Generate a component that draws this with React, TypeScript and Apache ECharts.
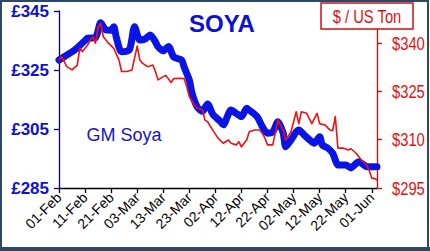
import React, { useEffect, useRef } from "react";
import * as echarts from "echarts";

// ---- Data ----
const BASE_DATE = "2011-02-01";

const gbpDates = [
  "2011-02-01", "2011-02-03", "2011-02-07", "2011-02-11", "2011-02-12", "2011-02-15",
  "2011-02-17", "2011-02-19", "2011-02-21", "2011-02-22", "2011-02-23", "2011-02-25",
  "2011-02-28", "2011-03-02", "2011-03-04", "2011-03-06", "2011-03-08", "2011-03-10",
  "2011-03-11", "2011-03-13", "2011-03-15", "2011-03-17", "2011-03-20", "2011-03-21",
  "2011-03-23", "2011-03-24", "2011-03-26", "2011-03-28", "2011-03-30", "2011-04-01",
  "2011-04-04", "2011-04-05", "2011-04-08", "2011-04-10", "2011-04-12", "2011-04-14",
  "2011-04-15", "2011-04-18", "2011-04-20", "2011-04-22", "2011-04-24", "2011-04-26",
  "2011-04-28", "2011-04-29", "2011-05-01", "2011-05-03", "2011-05-04", "2011-05-06",
  "2011-05-09", "2011-05-10", "2011-05-12", "2011-05-13", "2011-05-15", "2011-05-17",
  "2011-05-18", "2011-05-19", "2011-05-22", "2011-05-24", "2011-05-25", "2011-05-27",
  "2011-05-29", "2011-05-30", "2011-06-03",
];
const gbpValues = [
  328.4, 329.5, 331.8, 335.0, 335.8, 336.0,
  341.0, 338.6, 338.5, 339.7, 336.0, 331.2,
  331.8, 339.7, 335.2, 335.5, 336.9, 334.5,
  332.9, 331.5, 333.0, 329.4, 328.4, 326.0,
  321.6, 317.2, 312.5, 311.0, 313.5, 310.0,
  307.5, 306.4, 311.4, 310.3, 309.2, 312.0,
  311.4, 309.2, 305.8, 303.6, 304.0, 307.5,
  303.6, 299.0, 301.3, 304.0, 304.7, 303.0,
  300.7, 300.2, 302.4, 299.6, 298.6, 296.8,
  294.5, 292.8, 292.8, 291.8, 292.5, 293.9,
  292.8, 292.2, 292.2,
];

const usdDates = [
  "2011-02-01", "2011-02-02", "2011-02-04", "2011-02-06", "2011-02-08", "2011-02-09",
  "2011-02-10", "2011-02-12", "2011-02-13", "2011-02-14", "2011-02-15", "2011-02-16",
  "2011-02-17", "2011-02-18", "2011-02-20", "2011-02-22", "2011-02-24", "2011-02-25",
  "2011-02-27", "2011-03-01", "2011-03-03", "2011-03-04", "2011-03-05", "2011-03-07",
  "2011-03-09", "2011-03-10", "2011-03-11", "2011-03-13", "2011-03-14", "2011-03-16",
  "2011-03-17", "2011-03-19", "2011-03-21", "2011-03-22", "2011-03-23", "2011-03-25",
  "2011-03-26", "2011-03-28", "2011-03-29", "2011-03-30", "2011-04-01", "2011-04-03",
  "2011-04-05", "2011-04-07", "2011-04-08", "2011-04-10", "2011-04-11", "2011-04-12",
  "2011-04-14", "2011-04-15", "2011-04-17", "2011-04-19", "2011-04-20", "2011-04-21",
  "2011-04-22", "2011-04-24", "2011-04-26", "2011-04-28", "2011-04-29", "2011-05-01",
  "2011-05-03", "2011-05-04", "2011-05-05", "2011-05-07", "2011-05-09", "2011-05-11",
  "2011-05-12", "2011-05-14", "2011-05-16", "2011-05-17", "2011-05-18", "2011-05-19",
  "2011-05-21", "2011-05-23", "2011-05-24", "2011-05-26", "2011-05-28", "2011-05-30",
  "2011-05-31", "2011-06-01", "2011-06-02", "2011-06-03",
];
const usdValues = [
  334.8, 335.8, 332.7, 331.7, 333.2, 338.5,
  337.4, 339.4, 341.0, 342.0, 340.0, 345.0,
  346.2, 342.0, 340.0, 338.4, 334.8, 331.2,
  331.2, 331.7, 339.1, 334.8, 333.8, 332.7,
  333.2, 331.2, 328.6, 329.6, 330.0, 327.8,
  329.0, 329.1, 329.0, 326.5, 323.4, 320.8,
  319.8, 319.3, 316.1, 315.6, 313.0, 310.5,
  308.9, 309.9, 308.9, 308.4, 309.4, 307.8,
  309.9, 312.5, 313.0, 313.0, 312.0, 310.5,
  308.4, 308.4, 316.1, 313.0, 309.9, 312.5,
  318.7, 315.0, 318.7, 318.2, 315.0, 318.2,
  315.0, 314.6, 313.0, 312.8, 317.2, 307.4,
  307.4, 306.8, 307.2, 305.8, 303.7, 302.2,
  300.5, 298.0, 298.0, 297.5,
];

const xTickLabels = [
  "01-Feb", "11-Feb", "21-Feb", "03-Mar", "13-Mar", "23-Mar", "02-Apr",
  "12-Apr", "22-Apr", "02-May", "12-May", "22-May", "01-Jun",
];
const gbpTicks = [285, 305, 325, 345];
const usdTicks = [295, 310, 325, 340];
const usdMax = 350;

const titleText = "SOYA";
const seriesLabel = "GM Soya";
const unitLabel = "$ / US Ton";

const DAY = 86400000;
const toDay = (s: string) => {
  const [y, m, d] = s.split("-").map(Number);
  const [by, bm, bd] = BASE_DATE.split("-").map(Number);
  return Math.round((Date.UTC(y, m - 1, d) - Date.UTC(by, bm - 1, bd)) / DAY);
};

const NARROW = 0.82;

export default function App() {
  const ref = useRef<HTMLDivElement>(null);

  useEffect(() => {
    document.body.style.margin = "0";
    if (!ref.current) return;
    const chart = echarts.init(ref.current, undefined, { renderer: "svg" });

    const gbpData = gbpDates.map((d, i) => [toDay(d), gbpValues[i]]);
    const usdData = usdDates.map((d, i) => [toDay(d), usdValues[i]]);

    const lastDay = Math.max(toDay(gbpDates[gbpDates.length - 1]), toDay(usdDates[usdDates.length - 1]));

    const staticGraphic: any[] = [
      {
        id: "border",
        type: "rect",
        z: 100,
        shape: { x: 1, y: 1, width: 427, height: 248 },
        style: { fill: "none", stroke: "#2C4866", lineWidth: 2 },
        silent: true,
      },
      {
        id: "borderShadow",
        type: "rect",
        z: 100,
        shape: { x: 0, y: 247, width: 430, height: 4 },
        style: { fill: "#2C4866" },
        silent: true,
      },
      {
        id: "title",
        type: "text",
        z: 100,
        x: 222,
        y: 23,
        style: {
          text: titleText,
          fill: "#0A10D8",
          font: "bold 24px 'Liberation Sans', Arial, sans-serif",
          textAlign: "center",
          textVerticalAlign: "middle",
        },
      },
      {
        id: "seriesLabel",
        type: "text",
        z: 100,
        x: 124,
        y: 135,
        style: {
          text: seriesLabel,
          fill: "#1414C8",
          font: "18px 'Liberation Sans', Arial, sans-serif",
          textAlign: "center",
          textVerticalAlign: "middle",
        },
      },
      {
        id: "unitBox",
        type: "rect",
        z: 100,
        shape: { x: 321, y: 3, width: 92, height: 26 },
        style: { fill: "#ffffff", stroke: "#D01010", lineWidth: 1.5 },
      },
      {
        id: "unitText",
        type: "text",
        z: 101,
        x: 367,
        y: 16.5,
        scaleX: NARROW,
        style: {
          text: unitLabel,
          fill: "#E01010",
          font: "18px 'Liberation Sans', Arial, sans-serif",
          textAlign: "center",
          textVerticalAlign: "middle",
        },
      },
    ];

    const option: any = {
      animation: false,
      backgroundColor: "#ffffff",
      grid: { left: 59, right: 53, top: 11, bottom: 63, containLabel: false },
      xAxis: {
        type: "value",
        min: 0,
        max: lastDay,
        interval: 10,
        axisLine: { show: true, onZero: false, lineStyle: { color: "#000000", width: 1.3 } },
        axisTick: { show: true, length: 5, lineStyle: { color: "#000000", width: 1.3 } },
        splitLine: { show: false },
        axisLabel: {
          rotate: 45,
          margin: 7,
          showMaxLabel: false,
          fontFamily: "Liberation Sans, Arial, sans-serif",
          fontSize: 14,
          color: "#000000",
          formatter: (v: number) => (v % 10 === 0 ? xTickLabels[v / 10] ?? "" : ""),
        },
      },
      yAxis: [
        {
          type: "value",
          position: "left",
          min: gbpTicks[0],
          max: gbpTicks[gbpTicks.length - 1],
          interval: gbpTicks[1] - gbpTicks[0],
          axisLine: { show: true, lineStyle: { color: "#000080", width: 1.3 } },
          axisTick: { show: true, length: 5, lineStyle: { color: "#000080", width: 1.3 } },
          splitLine: { show: false },
          axisLabel: {
            margin: 10,
            fontFamily: "Liberation Sans, Arial, sans-serif",
            fontSize: 17,
            fontWeight: "bold",
            color: "#1010D0",
            formatter: (v: number) => "£" + v,
          },
        },
        {
          type: "value",
          position: "right",
          min: usdTicks[0],
          max: usdMax,
          interval: usdTicks[1] - usdTicks[0],
          axisLine: { show: true, lineStyle: { color: "#E00000", width: 1.3 } },
          axisTick: { show: true, length: 5, lineStyle: { color: "#E00000", width: 1.3 } },
          splitLine: { show: false },
          axisLabel: { show: false },
        },
      ],
      series: [
        {
          type: "line",
          yAxisIndex: 0,
          data: gbpData,
          showSymbol: false,
          smooth: 0.25,
          lineStyle: { color: "#0A14E6", width: 7, cap: "round", join: "round" },
          z: 2,
        },
        {
          type: "line",
          yAxisIndex: 1,
          data: usdData,
          showSymbol: false,
          lineStyle: { color: "#F01010", width: 1.6, join: "round" },
          z: 3,
        },
      ],
      graphic: staticGraphic,
    };

    chart.setOption(option);

    // Right-axis labels in a condensed face, placed through the axis scale.
    const axisX = chart.convertToPixel({ xAxisIndex: 0 }, lastDay) as number;
    const labelGraphic = usdTicks.map((v, i) => {
      const y = chart.convertToPixel({ yAxisIndex: 1 }, v) as number;
      return {
        id: "usdLabel" + i,
        type: "text",
        z: 100,
        x: axisX + 15,
        y: y,
        scaleX: NARROW,
        style: {
          text: "$" + v,
          fill: "#E01010",
          font: "18px 'Liberation Sans', Arial, sans-serif",
          textAlign: "left",
          textVerticalAlign: "middle",
        },
      };
    });
    chart.setOption({ graphic: [...staticGraphic, ...labelGraphic] });

    return () => chart.dispose();
  }, []);

  return <div ref={ref} style={{ width: 430, height: 251 }} />;
}
